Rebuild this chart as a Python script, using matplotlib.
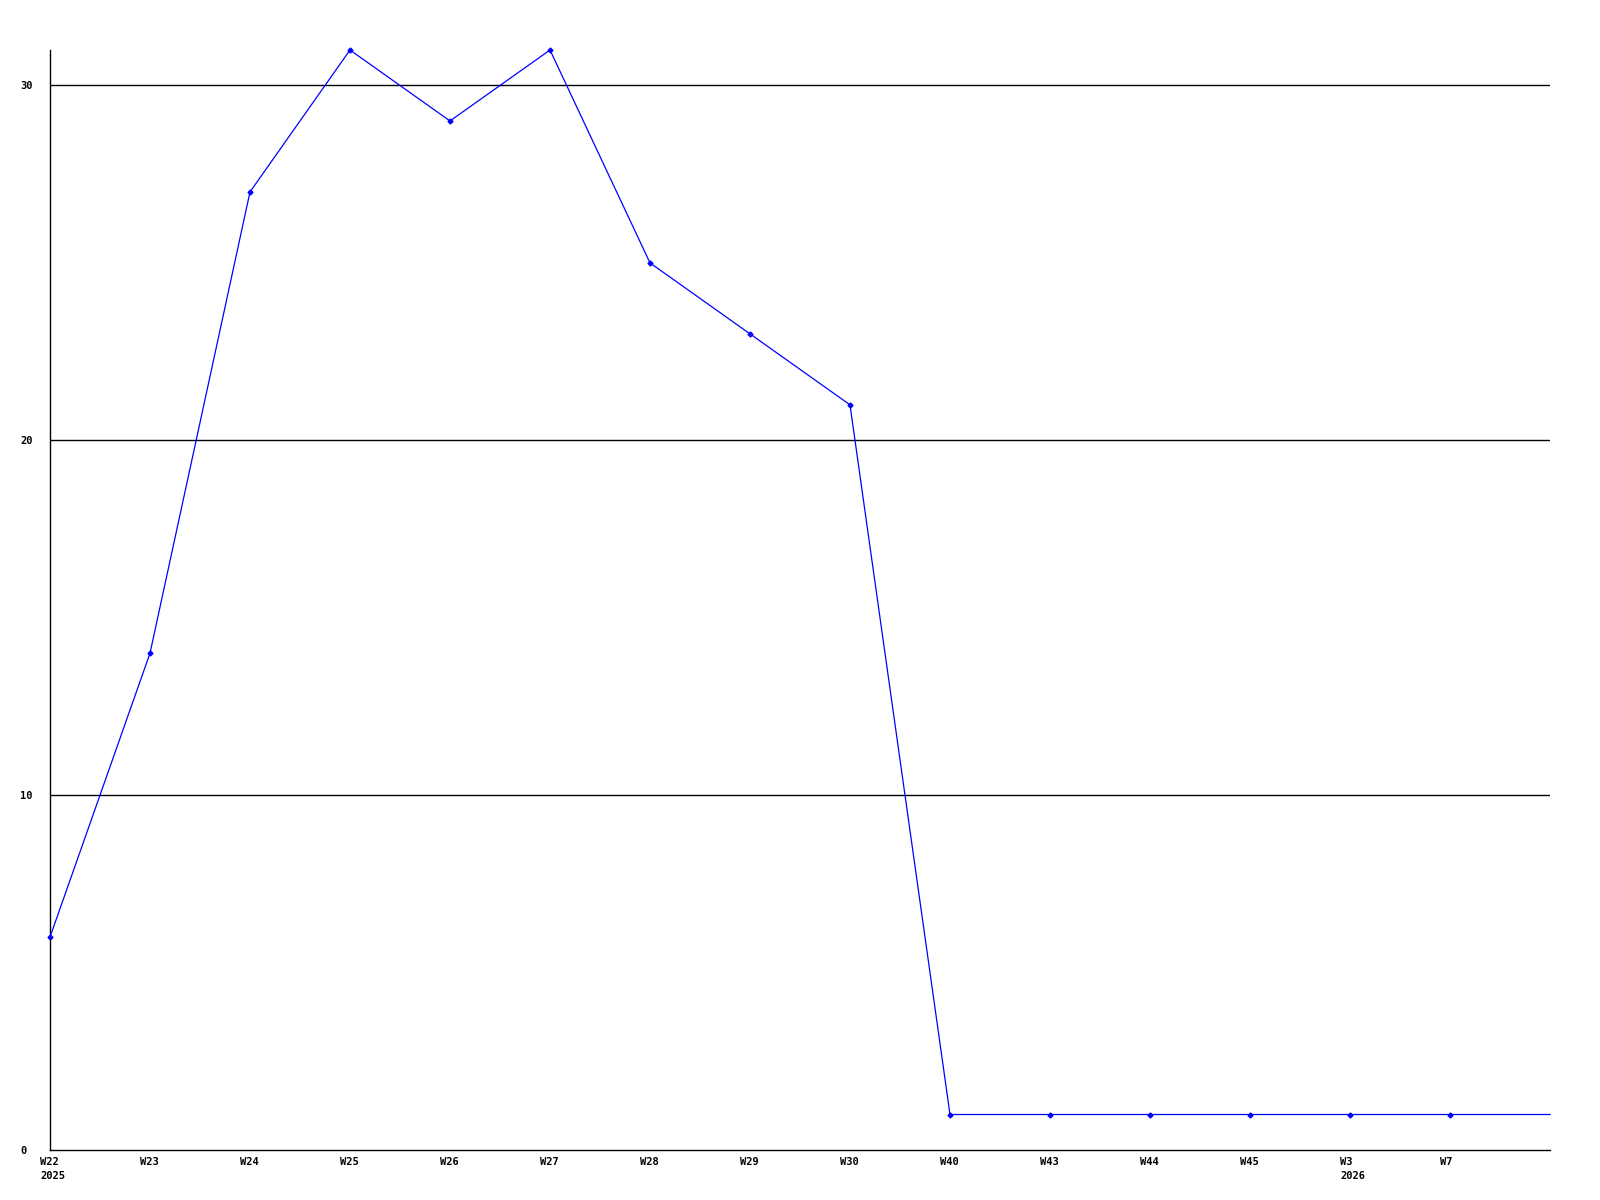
import matplotlib.pyplot as plt
import matplotlib.transforms as mtransforms

# weekly counts; last point has no label, the line just runs to the edge
weeks = ['W22', 'W23', 'W24', 'W25', 'W26', 'W27', 'W28', 'W29', 'W30',
         'W40', 'W43', 'W44', 'W45', 'W3', 'W7', '']
years = ['2025', '', '', '', '', '', '', '', '', '', '', '', '', '2026', '', '']
counts = [6, 14, 27, 31, 29, 31, 25, 23, 21, 1, 1, 1, 1, 1, 1, 1]

fig = plt.figure(figsize=(16, 12), dpi=100)
ax = fig.add_axes([50 / 1600, 50 / 1200, 1500 / 1600, 1100 / 1200])

x = list(range(len(counts)))
ax.plot(x, counts, color='#0000ff', linewidth=0.9, marker='D', markersize=2.5,
        markevery=list(range(len(counts) - 1)), zorder=3, clip_on=False)

ax.set_xlim(0, len(counts) - 1)
ax.set_ylim(0, 31)

for v in [10, 20, 30]:
    ax.axhline(v, color='black', linewidth=1.0, zorder=1)

for s in ['top', 'right']:
    ax.spines[s].set_visible(False)
for s in ['left', 'bottom']:
    ax.spines[s].set_linewidth(1.0)

font = dict(family='DejaVu Sans Mono', weight='bold', size=7.5)

ax.set_yticks([0, 10, 20, 30])
ax.set_yticklabels(['0', '10', '20', '30'], **font)
ax.tick_params(axis='y', length=0, pad=21.6)
for lab in ax.get_yticklabels():
    lab.set_horizontalalignment('left')

xlabels = [w + ('\n' + y if y else '') for w, y in zip(weeks, years)]
ax.set_xticks(x)
ax.set_xticklabels(xlabels, linespacing=1.5, **font)
ax.tick_params(axis='x', length=0, pad=5)
offset = mtransforms.ScaledTranslation(-10 / 100, 0, fig.dpi_scale_trans)
for lab in ax.get_xticklabels():
    lab.set_horizontalalignment('left')
    lab.set_verticalalignment('top')
    lab.set_transform(lab.get_transform() + offset)

fig.savefig('out.png', dpi=100)
